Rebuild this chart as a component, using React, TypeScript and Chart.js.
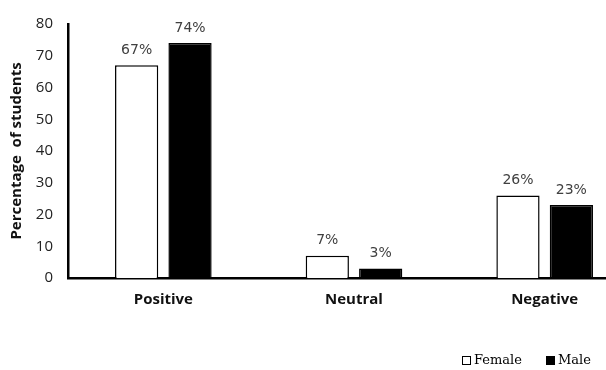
import React, { useEffect, useRef } from "react";
import { Chart, registerables } from "chart.js";

Chart.register(...registerables);

const categories = ["Positive", "Neutral", "Negative"];
const femaleValues = [67, 7, 26];
const maleValues = [74, 3, 23];
const seriesNames = ["Female", "Male"];
const yAxisTitle = "Percentage  of students";
const yMin = 0;
const yMax = 80;
const yStep = 10;

const valueLabels = {
  id: "valueLabels",
  afterDatasetsDraw(chart: any) {
    const ctx = chart.ctx;
    ctx.save();
    ctx.font = "14px 'DejaVu Sans'";
    ctx.fillStyle = "#404040";
    ctx.textAlign = "center";
    ctx.textBaseline = "bottom";
    chart.data.datasets.forEach((ds: any, i: number) => {
      chart.getDatasetMeta(i).data.forEach((bar: any, j: number) => {
        ctx.fillText(`${ds.data[j]}%`, bar.x, bar.y - 8);
      });
    });
    ctx.restore();
  },
};

export default function App() {
  const canvasRef = useRef<HTMLCanvasElement | null>(null);

  useEffect(() => {
    const canvas = canvasRef.current;
    if (!canvas) return;
    const chart = new Chart(canvas, {
      type: "bar",
      data: {
        labels: categories,
        datasets: [
          {
            label: seriesNames[0],
            data: femaleValues,
            backgroundColor: "#ffffff",
            borderColor: "#000000",
            borderWidth: 1.5,
            categoryPercentage: 0.56,
            barPercentage: 0.81,
          },
          {
            label: seriesNames[1],
            data: maleValues,
            backgroundColor: "#000000",
            borderColor: "#000000",
            borderWidth: 1.5,
            categoryPercentage: 0.56,
            barPercentage: 0.81,
          },
        ],
      },
      options: {
        responsive: false,
        animation: false,
        devicePixelRatio: 1,
        layout: { padding: { top: 20, left: 0, right: 0, bottom: 0 } },
        plugins: {
          legend: { display: false },
          tooltip: { enabled: false },
        },
        scales: {
          x: {
            grid: { display: false, drawTicks: false },
            border: { display: true, color: "#000000", width: 2.5 },
            ticks: {
              padding: 13,
              color: "#111111",
              font: { family: "'Open Sans'", size: 15, weight: "bold" },
            },
            afterFit: (scale: any) => {
              scale.height = 92;
            },
          },
          y: {
            min: yMin,
            max: yMax,
            grid: { display: false, drawTicks: false },
            border: { display: true, color: "#000000", width: 2.5 },
            ticks: {
              stepSize: yStep,
              padding: 15,
              color: "#222222",
              font: { family: "'Open Sans'", size: 15 },
            },
            title: {
              display: true,
              text: yAxisTitle,
              color: "#111111",
              padding: { top: 8, bottom: 0 },
              font: { family: "'Open Sans'", size: 15, weight: "bold" },
            },
            afterFit: (scale: any) => {
              scale.width = 68;
            },
          },
        },
      },
      plugins: [valueLabels],
    });
    return () => chart.destroy();
  }, []);

  const swatch = (fill: string) => ({
    display: "inline-block",
    width: 9,
    height: 9,
    boxSizing: "border-box" as const,
    border: "1.5px solid #000",
    background: fill,
    marginRight: 3,
  });

  return (
    <div
      style={{
        position: "absolute",
        left: 0,
        top: 0,
        width: 606,
        height: 370,
        overflow: "hidden",
        background: "#ffffff",
      }}
    >
      <canvas ref={canvasRef} width={640} height={370} style={{ display: "block" }} />
      <div
        style={{
          position: "absolute",
          left: 462,
          top: 352,
          display: "flex",
          alignItems: "center",
          fontFamily: "'DejaVu Serif'",
          fontSize: 13,
          color: "#000",
          whiteSpace: "nowrap",
          lineHeight: "16px",
        }}
      >
        <span style={swatch("#ffffff")} />
        <span style={{ marginRight: 24 }}>{seriesNames[0]}</span>
        <span style={swatch("#000000")} />
        <span>{seriesNames[1]}</span>
      </div>
    </div>
  );
}
